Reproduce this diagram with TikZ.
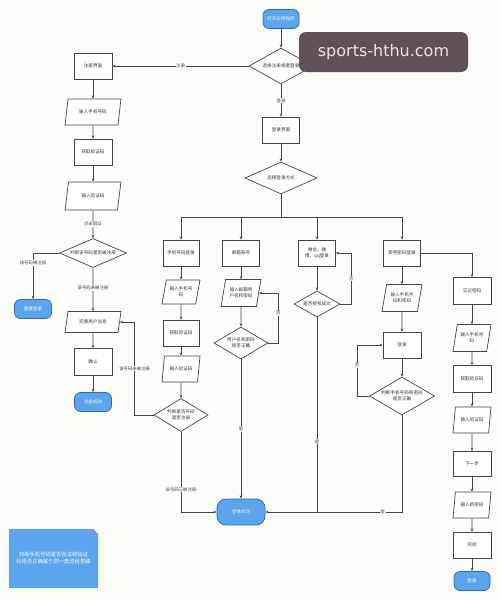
\documentclass[tikz,border=0pt]{standalone}
\usepackage{fontspec}
\setmainfont{Noto Sans CJK SC}
\newfontfamily\wmfont{DejaVu Sans}
\usetikzlibrary{shapes.geometric,arrows.meta}
\definecolor{bgc}{HTML}{FCFCF8}
\definecolor{ln}{HTML}{444444}
\definecolor{tblue}{HTML}{5AA5EE}
\definecolor{tborder}{HTML}{2E6DB4}
\definecolor{wmbg}{HTML}{5F5157}
\definecolor{wmtx}{HTML}{EEE0F0}
\begin{document}
\begin{tikzpicture}[x=1pt,y=-1pt,
  font=\fontsize{4.6}{5.6}\selectfont,
  every node/.style={text=black!80},
  proc/.style={draw=ln,line width=0.7pt,fill=white,minimum width=37pt,minimum height=26pt,inner sep=0.5pt,align=center},
  io/.style={trapezium,trapezium left angle=72,trapezium right angle=108,trapezium stretches=true,draw=ln,line width=0.7pt,fill=white,minimum width=#1,minimum height=26pt,inner sep=0.5pt,align=center},
  io/.default=40pt,
  dia/.style n args={2}{diamond,draw=ln,line width=0.7pt,fill=white,minimum width=#1,minimum height=#2,inner sep=0pt},
  term/.style={rounded corners=6pt,draw=tborder,line width=0.8pt,fill=tblue,minimum width=37pt,minimum height=19pt,inner sep=0.5pt,text=white,align=center},
  arr/.style={draw=ln,line width=0.7pt,-{Stealth[length=3.2pt,width=2.6pt]}},
  lnk/.style={draw=ln,line width=0.7pt},
  lab/.style={fill=bgc,inner sep=0.6pt,text=black!75,font=\fontsize{4.4}{5}\selectfont}
]
\fill[bgc] (0,0) rectangle (500,600);
\useasboundingbox (0,0) rectangle (500,600);

% top
\node[term,minimum width=36pt] (start) at (281,19) {打开应用程序};
\node[dia={64pt}{36pt},label={[align=center]center:选择注册或者登录}] (d1) at (281,66) {};
\node[proc,minimum width=38pt] (reg) at (93,66) {注册界面};
\node[proc] (login) at (281,130) {登录界面};

% register column
\node[io=56pt] (r1) at (93,112) {输入手机号码};
\node[proc,minimum width=38pt] (r2) at (93,152) {获取验证码};
\node[io=56pt,minimum height=28pt] (r3) at (93,196) {输入验证码};
\node[dia={67pt}{29pt},label={[align=center]center:判断该号码是否被注册}] (rd) at (93,253) {};
\node[term] (direct) at (33,309) {直接登录};
\node[io=56pt,minimum height=21pt] (r4) at (93,322) {完善用户信息};
\node[proc,minimum width=38pt,minimum height=27pt] (r5) at (93,362) {确认};
\node[term] (r6) at (93,402) {注册成功};

% login choice
\node[dia={72pt}{32pt},label={[align=center]center:选择登录方式}] (ld) at (281,178) {};
\node[proc,minimum width=36pt] (p0) at (181,253) {手机号码登录};
\node[proc] (e0) at (241,253) {邮箱账号};
\node[proc] (w0) at (317,253) {微信、微\\博、qq登录};
\node[proc] (m0) at (402,253) {使用密码登录};

% phone column
\node[io=38pt,minimum height=24pt] (p1) at (181,292) {输入手机号\\码};
\node[proc,minimum width=36pt] (p2) at (181,333) {获取验证码};
\node[io=38pt] (p3) at (181,369) {输入验证码};
\node[dia={54pt}{33pt},label={[align=center]center:判断是否号码\\是否注册}] (pd) at (181,415) {};

% email column
\node[io=40pt,minimum height=27pt] (e1) at (241,293) {输入邮箱用\\户名和密码};
\node[dia={54pt}{32pt},label={[align=center]center:用户名和密码\\是否正确}] (ed) at (241,343) {};

% wechat column
\node[dia={46pt}{26pt},label={[align=center]center:是否授权成功}] (wd) at (317,304) {};

% password column
\node[io=40pt,minimum height=27pt] (m1) at (402,298) {输入手机号\\码和密码};
\node[proc,minimum width=38pt] (m2) at (402,345) {登录};
\node[dia={65pt}{38pt},label={[align=center]center:判断手机号码和密码\\是否正确}] (md) at (402,396) {};

% forgot column
\node[proc,minimum width=38pt,minimum height=27pt] (f0) at (472,291) {忘记密码};
\node[io=38pt,minimum height=27pt] (f1) at (472,338) {输入手机号\\码};
\node[proc,minimum width=38pt,minimum height=27pt] (f2) at (472,379) {获取验证码};
\node[io=38pt] (f3) at (472,420) {输入验证码};
\node[proc,minimum width=38pt,minimum height=25pt] (f4) at (472,464) {下一步};
\node[io=38pt] (f5) at (472,505) {输入新密码};
\node[proc,minimum width=38pt] (f6) at (472,545) {完成};
\node[term,minimum width=36pt] (f7) at (472,581) {登录};

% success
\node[term,minimum width=48pt,minimum height=26pt,rounded corners=9pt] (ok) at (241,512) {登录成功};

% connectors top
\draw[arr] (start) -- (d1);
\draw[arr] (d1.west) -- node[lab]{注册} (reg.east);
\draw[arr] (d1.south) -- node[lab]{登录} (login.north);
\draw[arr] (login) -- (ld);

% register
\draw[arr] (reg) -- (r1);
\draw[arr] (r1) -- (r2);
\draw[arr] (r2) -- (r3);
\draw[arr] (r3) -- node[lab]{点击验证} (rd);
\draw[arr] (rd.west) -| node[lab,pos=0.61]{该号码被注册} (direct.north);
\draw[arr] (rd.south) -- node[lab,pos=0.47]{该号码未被注册} (r4.north);
\draw[arr] (r4) -- (r5);
\draw[arr] (r5) -- (r6);

% branches
\draw[lnk] (ld.south) -- ++(0,23) coordinate (br);
\draw[arr] (br) -| (p0.north);
\draw[arr] (br) -| (e0.north);
\draw[arr] (br) -| (w0.north);
\draw[arr] (br) -| (m0.north);
\draw[arr] (m0.east) -| (f0.north);

% phone
\draw[arr] (p0) -- (p1);
\draw[arr] (p1) -- (p2);
\draw[arr] (p2) -- (p3);
\draw[arr] (p3) -- (pd);
\draw[arr] (pd.west) -- ++(-19,0) |- node[lab,pos=0.25]{该号码未被注册} (r4.east);
\draw[arr] (pd.south) |- node[lab,pos=0.36]{该号码已被注册} (ok.west);

% email
\draw[arr] (e0) -- (e1);
\draw[arr] (e1) -- (ed);
\draw[arr] (ed.east) -- ++(10,0) |- node[lab,pos=0.3]{否} (e1.east);
\draw[arr] (ed.south) -- node[lab,pos=0.5]{是} (ok.north);

% wechat
\draw[arr] (w0) -- (wd);
\draw[arr] (wd.east) -- ++(11,0) |- node[lab,pos=0.25]{否} (w0.east);
\draw[lnk] (wd.south) -- node[lab,pos=0.64]{是} (wd.south |- ok.east);

% password
\draw[arr] (m0) -- (m1);
\draw[arr] (m1) -- (m2);
\draw[arr] (m2) -- (md);
\draw[arr] (md.west) -- ++(-12,0) |- node[lab,pos=0.3]{否} (m2.west);
\draw[arr] (md.south) |- node[lab,pos=0.57]{是} (ok.east);

% forgot
\draw[arr] (f0) -- (f1);
\draw[arr] (f1) -- (f2);
\draw[arr] (f2) -- (f3);
\draw[arr] (f3) -- (f4);
\draw[arr] (f4) -- (f5);
\draw[arr] (f5) -- (f6);
\draw[arr] (f6) -- (f7);

% note
\fill[tblue] (9,529) -- (93,529) -- (98,534) -- (98,588) -- (9,588) -- cycle;
\fill[tborder!70] (93,529) -- (93,534) -- (98,534) -- cycle;
\node[text=white,align=center,font=\fontsize{5.3}{7}\selectfont] (note) at (53.5,558) {判断手机号码是否合法和验证\\码是否正确属于同一套流程思路};

% watermark
\fill[wmbg,rounded corners=7pt] (299,32) rectangle (468,72);
\node[text=wmtx,font=\wmfont\fontsize{16}{18}\selectfont] (wm) at (383.5,52) {sports-hthu.com};
\end{tikzpicture}
\end{document}
